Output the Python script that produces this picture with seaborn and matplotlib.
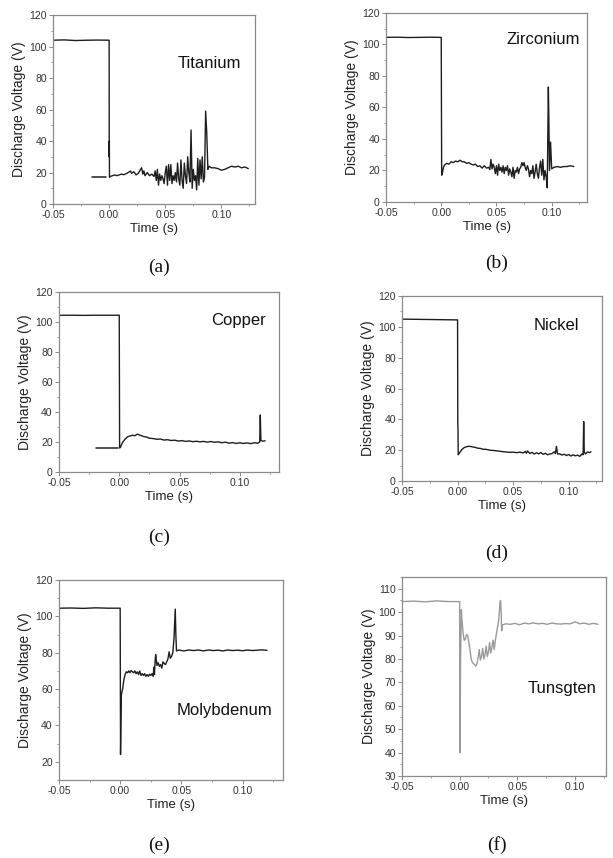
import numpy as np
import pandas as pd
import matplotlib
matplotlib.use("Agg")
import matplotlib.pyplot as plt
from matplotlib.ticker import MultipleLocator, FormatStrFormatter
import seaborn as sns

# ---- data (time in s, voltage in V) ----
ti_t = [-0.05, -0.04, -0.03, -0.02, -0.01, 0.0, 0.0001, 0.0002, 0.0003,
        0.001, 0.003, 0.005, 0.007, 0.009, 0.011, 0.013, 0.015, 0.017, 0.019,
        0.020, 0.022, 0.024, 0.026, 0.028, 0.029, 0.030, 0.031, 0.032, 0.034,
        0.036, 0.038, 0.040, 0.041, 0.042, 0.043, 0.044, 0.045, 0.046, 0.047,
        0.048, 0.049, 0.050, 0.051, 0.052, 0.053, 0.054, 0.055, 0.056, 0.057,
        0.058, 0.059, 0.060, 0.061, 0.062, 0.063, 0.064, 0.065, 0.066, 0.067,
        0.068, 0.069, 0.070, 0.071, 0.072, 0.073, 0.074, 0.075, 0.076, 0.077,
        0.078, 0.079, 0.080, 0.081, 0.082, 0.083, 0.084, 0.085, 0.086, 0.087,
        0.088, 0.089, 0.091, 0.094, 0.097, 0.100, 0.103, 0.106, 0.109, 0.112,
        0.115, 0.118, 0.121, 0.124]
ti_v = [104, 104.2, 103.8, 104, 104.1, 104, 30, 40, 17,
        17.5, 18, 18.5, 18, 18.5, 19, 18.6, 19.2, 20, 21,
        19.5, 20.5, 18.5, 19.5, 22, 23, 19, 21, 18, 20,
        18, 19, 17.5, 21, 15, 22, 12, 19, 15, 18,
        16, 13, 20, 24, 12, 25, 15, 25, 13, 18,
        15, 20, 14, 26, 16, 12, 28, 15, 10, 26,
        18, 13, 30, 20, 14, 47, 10, 22, 15, 18,
        9, 29, 12, 28, 16, 30, 14, 17, 59, 45,
        22, 24, 23, 23, 22.5, 21.5, 22, 23, 24, 23.5,
        24, 23, 23.5, 22.5]
ti_pre_t = [-0.015, -0.003]
ti_pre_v = [17, 17]

zr_t = [-0.05, -0.04, -0.03, -0.02, -0.01, 0.0, 0.0002, 0.0004,
        0.001, 0.002, 0.003, 0.005, 0.007, 0.009, 0.011, 0.013, 0.015, 0.017,
        0.019, 0.021, 0.023, 0.025, 0.027, 0.029, 0.031, 0.033, 0.035, 0.037,
        0.039, 0.041, 0.043, 0.044, 0.045, 0.046, 0.047, 0.048, 0.049, 0.050,
        0.051, 0.052, 0.053, 0.054, 0.055, 0.056, 0.057, 0.058, 0.059, 0.060,
        0.061, 0.062, 0.063, 0.064, 0.065, 0.066, 0.067, 0.068, 0.069, 0.070,
        0.071, 0.072, 0.073, 0.074, 0.075, 0.076, 0.077, 0.078, 0.079, 0.080,
        0.081, 0.082, 0.083, 0.084, 0.085, 0.086, 0.087, 0.088, 0.089, 0.090,
        0.091, 0.092, 0.093, 0.094, 0.095, 0.096, 0.097, 0.0975, 0.098, 0.099,
        0.100, 0.102, 0.105, 0.108, 0.111, 0.114, 0.117, 0.120]
zr_v = [104.5, 104.6, 104.4, 104.5, 104.6, 104.5, 60, 17,
        18, 22, 23.5, 24.5, 24, 25.5, 25, 26, 25.5, 26.5,
        25.5, 25.5, 24.5, 25, 24, 23.5, 24, 22.5, 23, 21.5,
        23, 21.5, 22, 20.5, 27, 21, 24, 22, 18, 23,
        17, 24, 20, 22, 19, 23, 18, 22, 20, 23,
        17, 21, 19, 16, 22, 15, 20, 19, 22, 18,
        21, 22, 25, 23, 25, 22, 20, 23, 21, 16,
        20, 18, 23, 15, 19, 24, 18, 15, 22, 26,
        17, 27, 14, 20, 16, 9, 73, 50, 20, 38,
        21, 22, 22.5, 22, 22.5, 22.5, 23, 22.5]

cu_t = [-0.05, -0.04, -0.03, -0.02, -0.01, 0.0, 0.0003,
        0.001, 0.002, 0.003, 0.005, 0.007, 0.009, 0.011, 0.013, 0.015, 0.017,
        0.019, 0.021, 0.023, 0.025, 0.028, 0.031, 0.034, 0.037, 0.040, 0.043,
        0.046, 0.049, 0.052, 0.055, 0.058, 0.061, 0.064, 0.067, 0.070, 0.073,
        0.076, 0.079, 0.082, 0.085, 0.088, 0.091, 0.094, 0.097, 0.100, 0.103,
        0.106, 0.109, 0.112, 0.115, 0.1165, 0.117, 0.1175, 0.119, 0.121]
cu_v = [104.5, 104.5, 104.4, 104.5, 104.5, 104.5, 16,
        16.5, 18.5, 20, 22, 23.5, 24, 24.5, 24.2, 25.2, 24.6,
        24, 23.5, 23.2, 22.5, 22.3, 21.8, 22, 21.3, 21.5, 21,
        21.2, 20.6, 20.9, 20.4, 20.7, 20.2, 20.5, 20.1, 20.4, 19.9,
        20.3, 19.8, 20.1, 19.5, 19.9, 19.2, 19.6, 19, 19.5, 19,
        19.4, 18.9, 19.5, 19.2, 20, 38, 21, 20.5, 20.8]
cu_pre_t = [-0.019, -0.001]
cu_pre_v = [16, 16]

ni_t = [-0.05, -0.03, -0.01, 0.0, 0.0002, 0.0004, 0.0006,
        0.002, 0.004, 0.006, 0.008, 0.010, 0.012, 0.014, 0.016, 0.018, 0.020,
        0.023, 0.026, 0.029, 0.032, 0.035, 0.038, 0.041, 0.044, 0.047, 0.050,
        0.053, 0.056, 0.059, 0.061, 0.062, 0.063, 0.065, 0.067, 0.069, 0.071,
        0.073, 0.075, 0.077, 0.079, 0.081, 0.083, 0.085, 0.087, 0.088, 0.089,
        0.090, 0.092, 0.094, 0.096, 0.098, 0.100, 0.102, 0.104, 0.106, 0.108,
        0.110, 0.112, 0.113, 0.1135, 0.114, 0.115, 0.117, 0.119, 0.120]
ni_v = [105, 104.8, 104.6, 104.5, 38, 33, 17,
        18.5, 20.5, 21.7, 22.2, 22.5, 22.4, 22, 21.8, 21.3, 21.2,
        20.6, 20.5, 20, 19.8, 19.6, 19.3, 19, 18.8, 18.6, 18.7,
        18.4, 18.7, 18.2, 19.2, 18, 19.5, 17.8, 18.6, 17.5, 18.3,
        17.6, 18.5, 17.3, 18, 17, 17.5, 17.8, 19, 17.8, 22.5,
        17.5, 17.6, 16.8, 17.4, 16.5, 17.2, 16.2, 17, 16.3, 16.8,
        16, 17.5, 17, 38.5, 19, 17.5, 18.8, 18.4, 19]

mo_t = [-0.05, -0.04, -0.03, -0.02, -0.01, 0.0, 0.0003, 0.0008,
        0.001, 0.002, 0.003, 0.004, 0.005, 0.006, 0.007, 0.008, 0.009, 0.010,
        0.011, 0.012, 0.013, 0.014, 0.015, 0.016, 0.017, 0.018, 0.019, 0.020,
        0.021, 0.022, 0.023, 0.024, 0.025, 0.026, 0.027, 0.0275, 0.028, 0.0285,
        0.029, 0.0295, 0.030, 0.031, 0.032, 0.033, 0.034, 0.035, 0.036, 0.037,
        0.038, 0.039, 0.040, 0.041, 0.042, 0.043, 0.044, 0.045, 0.0455, 0.046,
        0.048, 0.052, 0.056, 0.060, 0.064, 0.068, 0.072, 0.076, 0.080, 0.084,
        0.088, 0.092, 0.096, 0.100, 0.104, 0.108, 0.112, 0.116, 0.120]
mo_v = [104.5, 104.6, 104.4, 104.7, 104.5, 104.5, 24, 50,
        57, 60, 65, 68, 69.5, 69, 70, 69, 70.2, 69.5,
        69, 70, 68.5, 69.5, 68, 70, 67.5, 68.5, 67.5, 68.5,
        67, 68, 67, 68.2, 67.5, 68.5, 67, 72, 68, 75,
        79, 76, 73, 74.5, 72.5, 73.5, 71.5, 75, 74, 73.5,
        75, 76.5, 80.5, 77, 78, 80, 88, 104, 90, 81,
        81.5, 81, 81.5, 81.2, 81.5, 81, 81.5, 81.2, 81.4, 81,
        81.5, 81.2, 81.4, 81.1, 81.5, 81.2, 81.4, 81.6, 81.3]

w_t = [-0.05, -0.04, -0.03, -0.02, -0.01, 0.0, 0.0003, 0.0008, 0.0015,
       0.002, 0.003, 0.004, 0.005, 0.006, 0.007, 0.008, 0.009, 0.010, 0.011,
       0.012, 0.013, 0.014, 0.015, 0.016, 0.017, 0.018, 0.019, 0.020, 0.021,
       0.022, 0.023, 0.024, 0.025, 0.026, 0.027, 0.028, 0.029, 0.030, 0.031,
       0.032, 0.033, 0.034, 0.035, 0.0355, 0.036, 0.0365, 0.037, 0.040, 0.044,
       0.048, 0.052, 0.056, 0.060, 0.064, 0.068, 0.072, 0.076, 0.080, 0.084,
       0.088, 0.092, 0.096, 0.100, 0.102, 0.104, 0.108, 0.112, 0.116, 0.120]
w_v = [104.5, 104.7, 104.4, 104.8, 104.5, 104.5, 40, 80, 101,
       97, 91, 88, 88.5, 90.5, 90, 87, 84, 80, 78.5,
       78, 77.5, 77, 78, 80.5, 84, 79.5, 81, 84.5, 80,
       82, 85.5, 81, 83, 87, 82.5, 85, 88, 84, 88,
       91, 94, 97, 104, 105, 100, 92, 94.5, 95, 94.8,
       95.2, 94.6, 95.3, 95, 95.4, 95, 95.2, 94.8, 95.3, 95,
       94.9, 95.1, 95, 95.8, 95.5, 95, 95.3, 94.8, 95.2, 94.8]

names = ["Titanium", "Zirconium", "Copper", "Nickel", "Molybdenum", "Tunsgten"]
captions = ["(a)", "(b)", "(c)", "(d)", "(e)", "(f)"]

# ---- style ----
sns.set_style("ticks")
plt.rcParams["font.family"] = ["Liberation Sans", "DejaVu Sans"]
plt.rcParams["axes.unicode_minus"] = False

fig = plt.figure(figsize=(6.13, 8.58), dpi=100)

# axes boxes in figure fractions
boxes = [
    [0.0865, 0.7622, 0.3295, 0.2203],
    [0.6297, 0.7646, 0.3279, 0.2203],
    [0.0962, 0.4499, 0.3589, 0.2098],
    [0.6558, 0.4394, 0.3263, 0.2156],
    [0.0962, 0.0909, 0.3654, 0.2331],
    [0.6558, 0.0956, 0.3328, 0.2319],
]
xmax = [0.13, 0.132, 0.1325, 0.13, 0.133, 0.127]
ylims = [(0, 120), (0, 120), (0, 120), (0, 120), (10, 120), (30, 115)]
series = [(ti_t, ti_v), (zr_t, zr_v), (cu_t, cu_v), (ni_t, ni_v), (mo_t, mo_v), (w_t, w_v)]
pre = {0: (ti_pre_t, ti_pre_v), 2: (cu_pre_t, cu_pre_v)}
name_pos = [(209, 63), (543, 39), (238, 320), (556, 326), (224, 710), (562, 688)]
cap_pos = [(159, 267), (497, 263), (159, 537), (497, 553), (159, 845), (497, 845)]

W, H = 613, 858
frame = "#8a8a8a"
for i, (t, v) in enumerate(series):
    ax = fig.add_axes(boxes[i])
    col = "#9a9a9a" if i == 5 else "#1e1e1e"
    df = pd.DataFrame({"t": t, "v": v})
    sns.lineplot(data=df, x="t", y="v", ax=ax, color=col, lw=1.0, sort=False, estimator=None)
    if i in pre:
        pt, pv = pre[i]
        sns.lineplot(x=pt, y=pv, ax=ax, color=col, lw=1.1, estimator=None)
    ax.set_xlim(-0.05, xmax[i])
    ax.set_ylim(*ylims[i])
    ax.xaxis.set_major_locator(MultipleLocator(0.05))
    ax.xaxis.set_minor_locator(MultipleLocator(0.025))
    ax.xaxis.set_major_formatter(FormatStrFormatter("%.2f"))
    if i == 5:
        ax.yaxis.set_minor_locator(MultipleLocator(5))
        ax.set_yticks(np.arange(30, 111, 10))
    else:
        ax.yaxis.set_major_locator(MultipleLocator(20))
        ax.yaxis.set_minor_locator(MultipleLocator(10))
    if i == 4:
        ax.set_yticks(np.arange(20, 121, 20))
    ax.set_xlabel("Time (s)", fontsize=9.5, color="#222222", labelpad=2)
    ax.set_ylabel("Discharge Voltage (V)", fontsize=10, color="#222222", labelpad=2)
    for s in ax.spines.values():
        s.set_visible(True)
        s.set_color(frame)
        s.set_linewidth(0.9)
    ax.tick_params(which="major", direction="out", length=3, width=0.7, color=frame,
                   labelsize=7.5, labelcolor="#333333", pad=1.5)
    ax.tick_params(which="minor", direction="out", length=1.5, width=0.6, color=frame)
    ax.set_facecolor("white")

    nx, ny = name_pos[i]
    fig.text(nx / W, 1 - ny / H, names[i], ha="center", va="center",
             fontsize=12, color="#111111")
    cx, cy = cap_pos[i]
    fig.text(cx / W, 1 - cy / H, captions[i], ha="center", va="center",
             fontsize=14, family=["Liberation Serif", "DejaVu Serif"], color="#111111")

fig.savefig("out.png", dpi=100)
